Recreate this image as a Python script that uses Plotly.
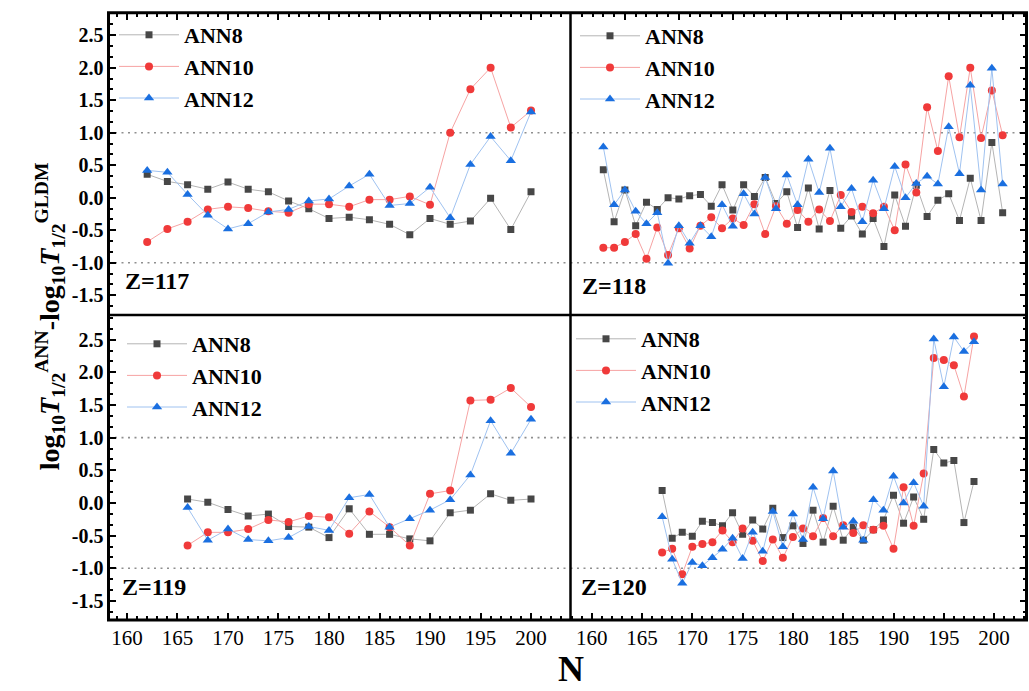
import plotly.graph_objects as go

# ---------------- data ----------------
# Z = 117
N_Z117 = [162, 164, 166, 168, 170, 172, 174, 176, 178, 180,
          182, 184, 186, 188, 190, 192, 194, 196, 198, 200]
ANN8_Z117 = [0.36, 0.25, 0.20, 0.13, 0.24, 0.13, 0.09, -0.05, -0.17, -0.32,
             -0.30, -0.34, -0.41, -0.57, -0.32, -0.41, -0.36, -0.01, -0.49, 0.09]
ANN10_Z117 = [-0.68, -0.48, -0.37, -0.18, -0.14, -0.16, -0.21, -0.23, -0.10, -0.10,
              -0.14, -0.03, -0.03, 0.02, -0.11, 1.00, 1.67, 2.00, 1.08, 1.34]
ANN12_Z117 = [0.42, 0.39, 0.05, -0.27, -0.48, -0.40, -0.22, -0.18, -0.05, -0.02,
              0.18, 0.36, -0.12, -0.09, 0.16, -0.31, 0.51, 0.94, 0.57, 1.32]

# Z = 118
N_Z118 = [163, 164, 165, 166, 167, 168, 169, 170, 171, 172, 173, 174, 175,
          176, 177, 178, 179, 180, 181, 182, 183, 184, 185, 186, 187, 188,
          189, 190, 191, 192, 193, 194, 195, 196, 197, 198, 199, 200]
ANN8_Z118 = [0.43, -0.37, 0.12, -0.43, -0.07, -0.18, 0.00, -0.02, 0.03, 0.05,
             -0.13, 0.20, -0.19, 0.20, 0.02, 0.31, -0.09, 0.09, -0.46, 0.15,
             -0.48, 0.11, -0.47, -0.28, -0.56, -0.32, -0.75, 0.04, -0.44, 0.19,
             -0.29, -0.04, 0.06, -0.35, 0.30, -0.35, 0.85, -0.23]
ANN10_Z118 = [-0.77, -0.77, -0.68, -0.56, -0.94, -0.46, -0.88, -0.47, -0.78, -0.43,
              -0.30, -0.47, -0.32, -0.42, -0.10, -0.56, -0.13, -0.40, -0.19, -0.37,
              -0.18, -0.36, 0.04, -0.22, -0.14, -0.24, -0.14, -0.50, 0.51, 0.08,
              1.39, 0.72, 1.87, 0.93, 2.00, 0.92, 1.65, 0.96]
ANN12_Z118 = [0.78, -0.11, 0.12, -0.21, -0.40, -0.23, -1.01, -0.43, -0.70, -0.43,
              -0.60, -0.11, -0.44, 0.06, -0.25, 0.31, -0.17, 0.35, -0.11, 0.59,
              0.08, 0.76, -0.14, 0.14, -0.37, 0.27, -0.17, 0.48, 0.00, 0.22,
              0.33, 0.21, 1.09, 0.37, 1.73, 0.12, 1.99, 0.21]

# Z = 119
N_Z119 = [166, 168, 170, 172, 174, 176, 178, 180, 182,
          184, 186, 188, 190, 192, 194, 196, 198, 200]
ANN8_Z119 = [0.06, 0.01, -0.10, -0.20, -0.17, -0.36, -0.37, -0.53, -0.09,
             -0.48, -0.48, -0.55, -0.58, -0.15, -0.11, 0.14, 0.04, 0.06]
ANN10_Z119 = [-0.65, -0.45, -0.45, -0.40, -0.26, -0.29, -0.20, -0.22, -0.47,
              -0.13, -0.37, -0.65, 0.14, 0.19, 1.57, 1.58, 1.76, 1.47]
ANN12_Z119 = [-0.07, -0.57, -0.40, -0.56, -0.58, -0.53, -0.36, -0.42, 0.08,
              0.13, -0.37, -0.24, -0.11, 0.05, 0.43, 1.26, 0.76, 1.28]

# Z = 120
N_Z120 = [167, 168, 169, 170, 171, 172, 173, 174, 175, 176, 177, 178, 179,
          180, 181, 182, 183, 184, 185, 186, 187, 188, 189, 190, 191, 192,
          193, 194, 195, 196, 197, 198]
ANN8_Z120 = [0.19, -0.54, -0.45, -0.51, -0.28, -0.30, -0.35, -0.15, -0.48, -0.26,
             -0.40, -0.08, -0.53, -0.35, -0.62, -0.11, -0.60, -0.05, -0.57, -0.37,
             -0.57, -0.41, -0.26, 0.12, -0.31, 0.09, -0.25, 0.82, 0.61, 0.65,
             -0.30, 0.33]
ANN10_Z120 = [-0.76, -0.70, -1.09, -0.67, -0.63, -0.60, -0.42, -0.60, -0.39, -0.58,
              -0.89, -0.56, -0.84, -0.52, -0.39, -0.51, -0.23, -0.51, -0.34, -0.46,
              -0.34, -0.41, -0.35, -0.70, 0.24, -0.35, 0.45, 2.22, 2.19, 2.11,
              1.63, 2.55]
ANN12_Z120 = [-0.21, -0.86, -1.23, -0.91, -0.96, -0.84, -0.71, -0.54, -0.85, -0.45,
              -0.74, -0.13, -0.67, -0.17, -0.56, 0.24, -0.24, 0.49, -0.37, -0.28,
              -0.57, 0.05, -0.11, 0.41, 0.00, 0.31, -0.05, 2.51, 1.78, 2.54,
              2.32, 2.47]

SERIES_NAMES = ["ANN8", "ANN10", "ANN12"]
Y_TICKS = [-1.5, -1.0, -0.5, 0.0, 0.5, 1.0, 1.5, 2.0, 2.5]
Y_TICK_TEXT = ["-1.5", "-1.0", "-0.5", "0.0", "0.5", "1.0", "1.5", "2.0", "2.5"]
X_TICKS = [160, 165, 170, 175, 180, 185, 190, 195, 200]
REF_LEVELS = [1.0, -1.0]

# ---------------- layout geometry (pixels) ----------------
W, H = 1029, 691
LEFT, MID, RIGHT = 108.5, 570.5, 1026.5
TOP, CENTER, BOTTOM = 12.7, 315.0, 620.0


def fx(p):
    return p / W


def fy(p):
    return 1 - p / H


SERIF = "Liberation Serif"
STYLES = {
    "ANN8": dict(marker=dict(symbol="square", size=7, color="#474747"),
                 line=dict(color="#b4b4b4", width=1)),
    "ANN10": dict(marker=dict(symbol="circle", size=8, color="#f03a3a"),
                  line=dict(color="#f6a3a3", width=1)),
    "ANN12": dict(marker=dict(symbol="triangle-up", size=9, color="#1a6fe0"),
                  line=dict(color="#9fc2f0", width=1)),
}

panels = [
    dict(z=117, n=N_Z117, vals=[ANN8_Z117, ANN10_Z117, ANN12_Z117],
         xd=[LEFT, MID], yd=[CENTER, TOP], xr=[158.17, 203.91], yr=[-1.805, 2.846],
         xside="top", yside="left", legend_xy=(114, 14), zlab=(123, 281)),
    dict(z=118, n=N_Z118, vals=[ANN8_Z118, ANN10_Z118, ANN12_Z118],
         xd=[MID, RIGHT], yd=[CENTER, TOP], xr=[159.96, 202.21], yr=[-1.805, 2.846],
         xside="top", yside="right", legend_xy=(575, 15), zlab=(580, 286)),
    dict(z=119, n=N_Z119, vals=[ANN8_Z119, ANN10_Z119, ANN12_Z119],
         xd=[LEFT, MID], yd=[BOTTOM, CENTER], xr=[158.17, 203.91], yr=[-1.792, 2.878],
         xside="bottom", yside="left", legend_xy=(122, 323), zlab=(120, 587)),
    dict(z=120, n=N_Z120, vals=[ANN8_Z120, ANN10_Z120, ANN12_Z120],
         xd=[MID, RIGHT], yd=[BOTTOM, CENTER], xr=[157.89, 203.22], yr=[-1.792, 2.878],
         xside="bottom", yside="right", legend_xy=(571, 318), zlab=(579, 587)),
]

fig = go.Figure()
layout = dict(
    width=W, height=H,
    margin=dict(l=0, r=0, t=0, b=0),
    paper_bgcolor="white", plot_bgcolor="white",
    showlegend=True,
    shapes=[], annotations=[],
)

for i, p in enumerate(panels, start=1):
    sfx = "" if i == 1 else str(i)
    xname, yname = "x" + sfx, "y" + sfx
    legname = "legend" + sfx

    for name, vals in zip(SERIES_NAMES, p["vals"]):
        fig.add_trace(go.Scatter(
            x=p["n"], y=vals, mode="lines+markers", name=name,
            xaxis=xname, yaxis=yname, legend=legname,
            marker=dict(**STYLES[name]["marker"], line=dict(width=0)),
            line=STYLES[name]["line"],
        ))

    bottom_row = p["xside"] == "bottom"
    layout["xaxis" + sfx] = dict(
        domain=[fx(p["xd"][0]), fx(p["xd"][1])], range=p["xr"], anchor=yname,
        side=p["xside"], showgrid=False, zeroline=False, showline=False,
        ticks="inside", ticklen=7, tickwidth=2, tickcolor="black",
        tickmode="array", tickvals=X_TICKS, ticktext=[str(v) for v in X_TICKS],
        showticklabels=bottom_row, ticklabelstandoff=3,
        tickfont=dict(family=SERIF, size=21, color="black"),
        minor=dict(ticks="inside", ticklen=4, tickwidth=1.5, tickcolor="black",
                   tickmode="linear", tick0=160, dtick=1),
        automargin=False, fixedrange=True,
    )
    left_col = p["yside"] == "left"
    layout["yaxis" + sfx] = dict(
        domain=[fy(p["yd"][0]), fy(p["yd"][1])], range=p["yr"], anchor=xname,
        side=p["yside"], showgrid=False, zeroline=False, showline=False,
        ticks="inside", ticklen=7, tickwidth=2, tickcolor="black",
        tickmode="array", tickvals=Y_TICKS, ticktext=Y_TICK_TEXT,
        showticklabels=left_col, ticklabelstandoff=4,
        tickfont=dict(family=SERIF, size=20, color="black", weight="bold"),
        minor=dict(ticks="inside", ticklen=4, tickwidth=1.5, tickcolor="black",
                   tickmode="linear", tick0=0, dtick=0.5 / 3),
        automargin=False, fixedrange=True,
    )

    lx, ly = p["legend_xy"]
    layout[legname] = dict(
        x=fx(lx), y=fy(ly), xref="paper", yref="paper",
        xanchor="left", yanchor="top", bgcolor="rgba(0,0,0,0)",
        borderwidth=0, itemwidth=60, tracegroupgap=0,
        font=dict(family=SERIF, size=22, color="black", weight="bold"),
    )

    # dotted reference levels at +/-1
    for lvl in REF_LEVELS:
        layout["shapes"].append(dict(
            type="line", xref=xname + " domain", x0=0, x1=1,
            yref=yname, y0=lvl, y1=lvl, layer="below",
            line=dict(color="#8f8f8f", width=1.6, dash="2px,4.5px"),
        ))

    zx, zy = p["zlab"]
    layout["annotations"].append(dict(
        text="Z=%d" % p["z"], xref="paper", yref="paper",
        x=fx(zx), y=fy(zy), xanchor="left", yanchor="middle", showarrow=False,
        font=dict(family=SERIF, size=24, color="black", weight="bold"),
    ))

# frame and panel dividers
frame = dict(color="black", width=3)
layout["shapes"] += [
    dict(type="rect", xref="paper", yref="paper", x0=fx(LEFT), x1=fx(RIGHT),
         y0=fy(BOTTOM), y1=fy(TOP), line=frame, layer="above"),
    dict(type="line", xref="paper", yref="paper", x0=fx(MID), x1=fx(MID),
         y0=fy(BOTTOM), y1=fy(TOP), line=dict(color="black", width=2.5), layer="above"),
    dict(type="line", xref="paper", yref="paper", x0=fx(LEFT), x1=fx(RIGHT),
         y0=fy(CENTER), y1=fy(CENTER), line=dict(color="black", width=2.5), layer="above"),
]

# axis titles
layout["annotations"] += [
    dict(text="log<sub>10</sub><i>T</i><sub>1/2</sub><sup>ANN</sup>-log<sub>10</sub>"
              "<i>T</i><sub>1/2</sub><sup>GLDM</sup>",
         xref="paper", yref="paper", x=fx(50), y=fy((TOP + BOTTOM) / 2),
         xanchor="center", yanchor="middle", textangle=-90, showarrow=False,
         font=dict(family=SERIF, size=28, color="black", weight="bold")),
    dict(text="N", xref="paper", yref="paper", x=fx(MID), y=0,
         xanchor="center", yanchor="bottom", showarrow=False,
         font=dict(family=SERIF, size=36, color="black", weight="bold")),
]

fig.update_layout(**layout)
fig.write_html("out.html")
